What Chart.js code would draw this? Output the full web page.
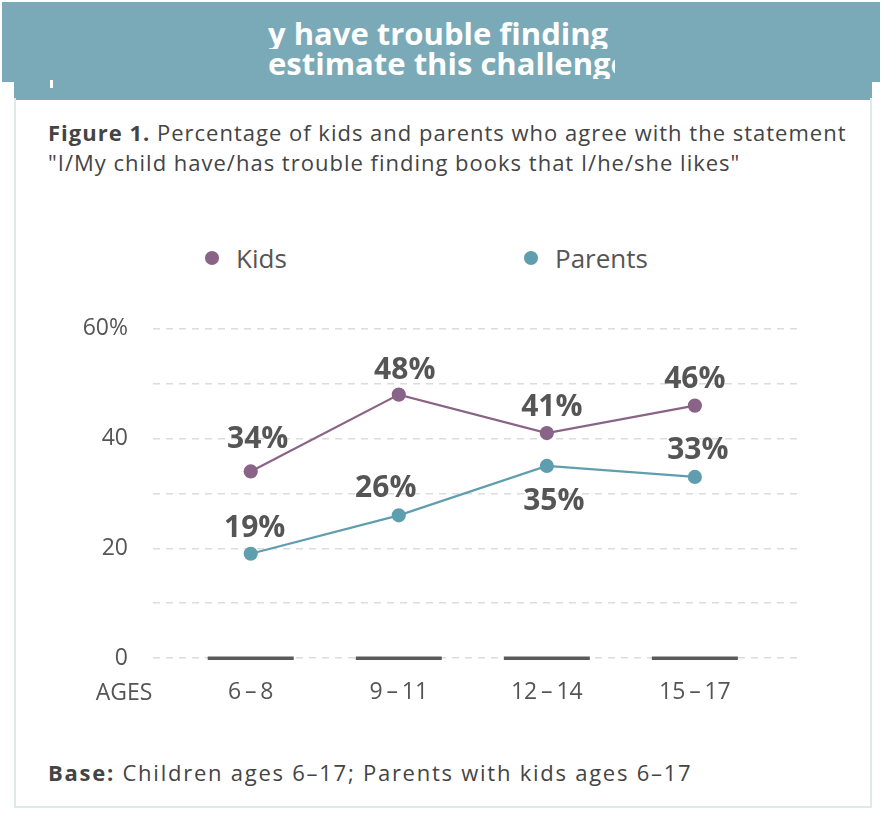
<!DOCTYPE html>
<html>
<head>
<meta charset="utf-8">
<script src="https://cdn.jsdelivr.net/npm/chart.js@4.4.0/dist/chart.umd.min.js"></script>
<style>
  html, body { margin: 0; padding: 0; background: #fff; }
  body { width: 882px; height: 826px; position: relative; overflow: hidden; font-family: "Open Sans", Lato, sans-serif; color: #4a4a4a; }
  .band { position: absolute; background: #7aa9b7; }
  .card { position: absolute; left: 14px; top: 98px; width: 854px; height: 708px; border: 2px solid #dfe9ea; border-top: none; }
  .banner-line { position: absolute; left: 268px; width: 347px; overflow: hidden; white-space: nowrap; color: #fff; font-weight: 700; font-size: 31px; line-height: 31px; }
  .caption { position: absolute; left: 48px; top: 117px; font-size: 22px; line-height: 30px; color: #444; letter-spacing: 1px; }
  .legend { position: absolute; top: 243px; font-size: 26px; line-height: 30px; color: #555; }
  .legend span.dot { display: inline-block; width: 14px; height: 14px; border-radius: 50%; margin-right: 17px; vertical-align: 3px; }
  .foot { position: absolute; left: 48px; top: 757px; font-size: 22px; line-height: 30px; color: #444; letter-spacing: 1.75px; }
  canvas { position: absolute; left: 0; top: 290px; }
</style>
</head>
<body>
<div class="band" style="left:2px;top:2px;width:878px;height:80px;"></div>
<div class="band" style="left:14px;top:82px;width:858px;height:18px;"></div>
<div style="position:absolute;left:50px;top:80px;width:3px;height:8px;background:#fff;"></div>
<div class="banner-line" style="top:18px;">y have trouble finding</div>
<div class="banner-line" style="top:48px;">estimate this challenge</div>
<div class="card"></div>
<div class="caption"><b>Figure 1.</b> Percentage of kids and parents who agree with the statement<br>"I/My child have/has trouble finding books that I/he/she likes"</div>
<div class="legend" style="left:205px;"><span class="dot" style="background:#8a6487"></span>Kids</div>
<div class="legend" style="left:524px;"><span class="dot" style="background:#5f9eae"></span>Parents</div>
<div class="foot"><b>Base:</b> Children ages 6–17; Parents with kids ages 6–17</div>
<canvas id="chart" width="882" height="430"></canvas>
<script>
// chart data
const ageGroups = ['6\u2009–\u20098', '9\u2009–\u200911', '12\u2009–\u200914', '15\u2009–\u200917'];
const kidsValues = [34, 48, 41, 46];
const parentsValues = [19, 26, 35, 33];
const yTicks = [0, 10, 20, 30, 40, 50, 60];

const kidsColor = '#8a6487';
const parentsColor = '#5f9eae';
const fontFamily = '"Open Sans", Lato, sans-serif';

// label nudges [dx, dy] per dataset / point
const labelOffsets = [
  [[7, -32], [6, -24], [5, -26], [0, -26]],
  [[4, -25], [-13, -27], [7, 35], [3, -26]]
];

// value labels, dark base segments and the AGES label
const decorPlugin = {
  id: 'decor',
  beforeDatasetsDraw(chart) {
    const { ctx, scales: { x, y } } = chart;
    ctx.save();
    ctx.fillStyle = '#5a5a5a';
    const y0 = y.getPixelForValue(0);
    ageGroups.forEach((g, i) => {
      const cx = x.getPixelForValue(i);
      ctx.fillRect(cx - 43, y0 - 1.5, 86, 3.5);
    });
    ctx.fillStyle = '#555';
    ctx.font = '23px ' + fontFamily;
    ctx.textAlign = 'center';
    ctx.textBaseline = 'middle';
    ctx.fillText('AGES', 124, y0 + 35);
    ctx.restore();
  },
  afterDatasetsDraw(chart) {
    const { ctx } = chart;
    ctx.save();
    ctx.fillStyle = '#555';
    ctx.font = 'bold 30px ' + fontFamily;
    ctx.textAlign = 'center';
    ctx.textBaseline = 'middle';
    chart.data.datasets.forEach((ds, di) => {
      const meta = chart.getDatasetMeta(di);
      meta.data.forEach((pt, i) => {
        const [dx, dy] = labelOffsets[di][i];
        ctx.fillText(ds.data[i].y + '%', pt.x + dx, pt.y + dy);
      });
    });
    ctx.restore();
  }
};

new Chart(document.getElementById('chart'), {
  type: 'line',
  data: {
    datasets: [
      {
        label: 'Kids',
        data: kidsValues.map((v, i) => ({ x: i, y: v })),
        borderColor: kidsColor,
        backgroundColor: kidsColor,
        borderWidth: 2.2,
        pointRadius: 6,
        pointHoverRadius: 6
      },
      {
        label: 'Parents',
        data: parentsValues.map((v, i) => ({ x: i, y: v })),
        borderColor: parentsColor,
        backgroundColor: parentsColor,
        borderWidth: 2.2,
        pointRadius: 6,
        pointHoverRadius: 6
      }
    ]
  },
  options: {
    responsive: false,
    animation: false,
    layout: { padding: { top: 36, right: 82, left: 0, bottom: 0 } },
    plugins: {
      legend: { display: false },
      tooltip: { enabled: false }
    },
    scales: {
      x: {
        type: 'linear',
        min: -0.66,
        max: 3.71,
        afterBuildTicks: axis => { axis.ticks = ageGroups.map((g, i) => ({ value: i })); },
        afterFit: axis => { axis.height = 62; },
        grid: { display: false, drawTicks: false },
        border: { display: false },
        ticks: {
          padding: 21,
          color: '#555',
          font: { family: fontFamily, size: 23 },
          callback: v => ageGroups[v]
        }
      },
      y: {
        min: 0,
        max: 60,
        afterBuildTicks: axis => { axis.ticks = yTicks.map(v => ({ value: v })); },
        afterFit: axis => { axis.width = 153; },
        grid: { color: '#dcdcdc', lineWidth: 1.5, drawTicks: false },
        border: { display: false, dash: [7, 6] },
        ticks: {
          padding: 25,
          color: '#555',
          font: { family: fontFamily, size: 23 },
          callback: v => v === 60 ? '60%' : (v % 20 === 0 ? String(v) : '')
        }
      }
    }
  },
  plugins: [decorPlugin]
});
</script>
</body>
</html>
